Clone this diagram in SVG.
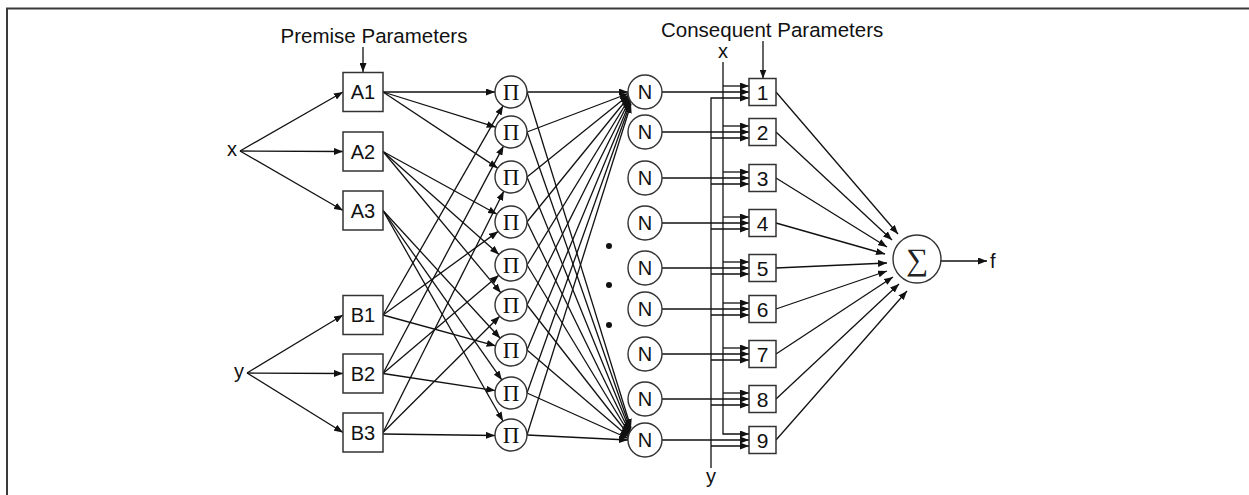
<svg xmlns="http://www.w3.org/2000/svg" width="1249" height="495" viewBox="0 0 1249 495">
<style>
.ln{stroke:#111;stroke-width:1.3;fill:none}
.ar{stroke:#111;stroke-width:1.3;fill:none;marker-end:url(#ah)}
.bx{fill:#fff;stroke:#333;stroke-width:1.5}
.cr{fill:#fff;stroke:#333;stroke-width:1.4}
.t{font-family:"Liberation Sans",Arial,sans-serif;fill:#111;text-anchor:middle}
.pi{font-family:"Liberation Serif","Times New Roman",serif;font-size:23px;fill:#111;text-anchor:middle}
.lb{font-size:20px}
.nn{font-size:20px}
.dg{font-size:21px}
.hd{font-size:20.5px}
</style>
<defs>
<marker id="ah" markerUnits="userSpaceOnUse" markerWidth="9" markerHeight="7" viewBox="0 0 9 7" refX="9" refY="3.5" orient="auto">
<path d="M0,0 L9,3.5 L0,7 z" fill="#111"/>
</marker>
</defs>
<rect width="1249" height="495" fill="#fff"/>
<path d="M7 495 V8.5 H1249" stroke="#3a3a3a" stroke-width="2" fill="none"/>

<g id="connectors">
<line class="ar" x1="363" y1="47" x2="363" y2="72"/>
<line class="ar" x1="763" y1="41" x2="763" y2="78.5"/>
<line class="ar" x1="240" y1="151" x2="343" y2="92"/>
<line class="ar" x1="240" y1="151" x2="343" y2="151.5"/>
<line class="ar" x1="240" y1="151" x2="343" y2="210.5"/>
<line class="ar" x1="247" y1="373" x2="343" y2="315"/>
<line class="ar" x1="247" y1="373" x2="343" y2="373.5"/>
<line class="ar" x1="247" y1="373" x2="343" y2="432.5"/>
<line class="ar" x1="383" y1="92" x2="495" y2="92"/>
<line class="ar" x1="383" y1="92" x2="495.7" y2="127.2"/>
<line class="ar" x1="383" y1="92" x2="497.7" y2="168.1"/>
<line class="ar" x1="383" y1="151.5" x2="497" y2="214.3"/>
<line class="ar" x1="383" y1="151.5" x2="499" y2="254.4"/>
<line class="ar" x1="383" y1="151.5" x2="500.8" y2="292.7"/>
<line class="ar" x1="383" y1="210.5" x2="500.2" y2="338.2"/>
<line class="ar" x1="383" y1="210.5" x2="501.8" y2="379.9"/>
<line class="ar" x1="383" y1="210.5" x2="503" y2="421"/>
<line class="ar" x1="383" y1="315" x2="503" y2="105.9"/>
<line class="ar" x1="383" y1="315" x2="498.1" y2="231.4"/>
<line class="ar" x1="383" y1="315" x2="495.6" y2="345.8"/>
<line class="ar" x1="383" y1="373.5" x2="503.5" y2="146.1"/>
<line class="ar" x1="383" y1="373.5" x2="498.8" y2="275.3"/>
<line class="ar" x1="383" y1="373.5" x2="495.2" y2="390.6"/>
<line class="ar" x1="383" y1="432.5" x2="503.8" y2="191.3"/>
<line class="ar" x1="383" y1="432.5" x2="499.7" y2="316.3"/>
<line class="ar" x1="383" y1="434" x2="495" y2="435.5"/>
<line class="ar" x1="527" y1="92" x2="628" y2="92"/>
<line class="ar" x1="527" y1="132" x2="628.4" y2="93.5"/>
<line class="ar" x1="527" y1="177" x2="628.8" y2="95"/>
<line class="ar" x1="527" y1="222" x2="629.1" y2="96.5"/>
<line class="ar" x1="527" y1="265" x2="629.5" y2="98"/>
<line class="ar" x1="527" y1="305" x2="629.9" y2="99.5"/>
<line class="ar" x1="527" y1="350" x2="630.3" y2="101"/>
<line class="ar" x1="527" y1="393" x2="630.6" y2="102.5"/>
<line class="ar" x1="527" y1="435" x2="631" y2="104"/>
<line class="ar" x1="527" y1="92" x2="631" y2="428"/>
<line class="ar" x1="527" y1="132" x2="630.6" y2="429.5"/>
<line class="ar" x1="527" y1="177" x2="630.3" y2="431"/>
<line class="ar" x1="527" y1="222" x2="629.9" y2="432.5"/>
<line class="ar" x1="527" y1="265" x2="629.5" y2="434"/>
<line class="ar" x1="527" y1="305" x2="629.1" y2="435.5"/>
<line class="ar" x1="527" y1="350" x2="628.8" y2="437"/>
<line class="ar" x1="527" y1="393" x2="628.4" y2="438.5"/>
<line class="ar" x1="527" y1="435" x2="628" y2="440"/>
<line class="ar" x1="662" y1="92" x2="749" y2="92"/>
<line class="ar" x1="662" y1="132" x2="749" y2="132"/>
<line class="ar" x1="662" y1="178" x2="749" y2="178"/>
<line class="ar" x1="662" y1="223" x2="749" y2="223"/>
<line class="ar" x1="662" y1="268" x2="749" y2="268"/>
<line class="ar" x1="662" y1="309" x2="749" y2="309"/>
<line class="ar" x1="662" y1="354" x2="749" y2="354"/>
<line class="ar" x1="662" y1="399" x2="749" y2="399"/>
<line class="ar" x1="662" y1="440" x2="749" y2="440"/>
<path class="ar" d="M723 62 V434 H749"/>
<line class="ar" x1="723" y1="86" x2="749" y2="86"/>
<line class="ar" x1="723" y1="126" x2="749" y2="126"/>
<line class="ar" x1="723" y1="172" x2="749" y2="172"/>
<line class="ar" x1="723" y1="217" x2="749" y2="217"/>
<line class="ar" x1="723" y1="262" x2="749" y2="262"/>
<line class="ar" x1="723" y1="303" x2="749" y2="303"/>
<line class="ar" x1="723" y1="348" x2="749" y2="348"/>
<line class="ar" x1="723" y1="393" x2="749" y2="393"/>
<path class="ar" d="M711 468 V98 H749"/>
<line class="ar" x1="711" y1="138" x2="749" y2="138"/>
<line class="ar" x1="711" y1="184" x2="749" y2="184"/>
<line class="ar" x1="711" y1="229" x2="749" y2="229"/>
<line class="ar" x1="711" y1="274" x2="749" y2="274"/>
<line class="ar" x1="711" y1="315" x2="749" y2="315"/>
<line class="ar" x1="711" y1="360" x2="749" y2="360"/>
<line class="ar" x1="711" y1="405" x2="749" y2="405"/>
<line class="ar" x1="711" y1="446" x2="749" y2="446"/>
<line class="ar" x1="776" y1="92" x2="898" y2="234"/>
<line class="ar" x1="776" y1="132" x2="892" y2="240"/>
<line class="ar" x1="776" y1="178" x2="887" y2="247"/>
<line class="ar" x1="776" y1="223" x2="885" y2="254"/>
<line class="ar" x1="776" y1="268" x2="887" y2="263"/>
<line class="ar" x1="776" y1="309" x2="887" y2="271"/>
<line class="ar" x1="776" y1="354" x2="893" y2="277"/>
<line class="ar" x1="776" y1="399" x2="899" y2="284"/>
<line class="ar" x1="776" y1="440" x2="907" y2="291"/>
<line class="ar" x1="941" y1="261" x2="987" y2="261"/>
</g>

<g id="labels">
<text class="t hd" x="374" y="43">Premise Parameters</text>
<text class="t hd" x="661" y="37" style="text-anchor:start">Consequent Parameters</text>
<text class="t lb" x="232" y="156">x</text>
<text class="t lb" x="239" y="378">y</text>
<text class="t lb" x="723" y="58">x</text>
<text class="t lb" x="711" y="483">y</text>
<text class="t lb" x="990" y="268" style="text-anchor:start">f</text>
</g>

<g id="A1"><rect class="bx" x="343" y="72.5" width="40" height="39"/><text class="t lb" x="363" y="99">A1</text></g>
<g id="A2"><rect class="bx" x="343" y="132" width="40" height="39"/><text class="t lb" x="363" y="158.5">A2</text></g>
<g id="A3"><rect class="bx" x="343" y="191" width="40" height="39"/><text class="t lb" x="363" y="217.5">A3</text></g>
<g id="B1"><rect class="bx" x="343" y="295.5" width="40" height="39"/><text class="t lb" x="363" y="322">B1</text></g>
<g id="B2"><rect class="bx" x="343" y="354" width="40" height="39"/><text class="t lb" x="363" y="380.5">B2</text></g>
<g id="B3"><rect class="bx" x="343" y="413" width="40" height="39"/><text class="t lb" x="363" y="439.5">B3</text></g>

<g id="P1"><circle class="cr" cx="511" cy="92" r="16"/><text class="pi" x="511" y="99.5">Π</text></g>
<g id="P2"><circle class="cr" cx="511" cy="132" r="16"/><text class="pi" x="511" y="139.5">Π</text></g>
<g id="P3"><circle class="cr" cx="511" cy="177" r="16"/><text class="pi" x="511" y="184.5">Π</text></g>
<g id="P4"><circle class="cr" cx="511" cy="222" r="16"/><text class="pi" x="511" y="229.5">Π</text></g>
<g id="P5"><circle class="cr" cx="511" cy="265" r="16"/><text class="pi" x="511" y="272.5">Π</text></g>
<g id="P6"><circle class="cr" cx="511" cy="305" r="16"/><text class="pi" x="511" y="312.5">Π</text></g>
<g id="P7"><circle class="cr" cx="511" cy="350" r="16"/><text class="pi" x="511" y="357.5">Π</text></g>
<g id="P8"><circle class="cr" cx="511" cy="393" r="16"/><text class="pi" x="511" y="400.5">Π</text></g>
<g id="P9"><circle class="cr" cx="511" cy="435" r="16"/><text class="pi" x="511" y="442.5">Π</text></g>

<g id="N1"><circle class="cr" cx="645" cy="92" r="17"/><text class="t nn" x="645" y="99.2">N</text></g>
<g id="N2"><circle class="cr" cx="645" cy="132" r="17"/><text class="t nn" x="645" y="139.2">N</text></g>
<g id="N3"><circle class="cr" cx="645" cy="178" r="17"/><text class="t nn" x="645" y="185.2">N</text></g>
<g id="N4"><circle class="cr" cx="645" cy="223" r="17"/><text class="t nn" x="645" y="230.2">N</text></g>
<g id="N5"><circle class="cr" cx="645" cy="268" r="17"/><text class="t nn" x="645" y="275.2">N</text></g>
<g id="N6"><circle class="cr" cx="645" cy="309" r="17"/><text class="t nn" x="645" y="316.2">N</text></g>
<g id="N7"><circle class="cr" cx="645" cy="354" r="17"/><text class="t nn" x="645" y="361.2">N</text></g>
<g id="N8"><circle class="cr" cx="645" cy="399" r="17"/><text class="t nn" x="645" y="406.2">N</text></g>
<g id="N9"><circle class="cr" cx="645" cy="440" r="17"/><text class="t nn" x="645" y="447.2">N</text></g>

<g id="dots" fill="#111"><circle cx="609" cy="246" r="3"/><circle cx="609" cy="285" r="3"/><circle cx="609" cy="325" r="3"/></g>

<g id="C1"><rect class="bx" x="749" y="78.5" width="27" height="27"/><text class="t dg" x="762.5" y="99.5">1</text></g>
<g id="C2"><rect class="bx" x="749" y="118.5" width="27" height="27"/><text class="t dg" x="762.5" y="139.5">2</text></g>
<g id="C3"><rect class="bx" x="749" y="164.5" width="27" height="27"/><text class="t dg" x="762.5" y="185.5">3</text></g>
<g id="C4"><rect class="bx" x="749" y="209.5" width="27" height="27"/><text class="t dg" x="762.5" y="230.5">4</text></g>
<g id="C5"><rect class="bx" x="749" y="254.5" width="27" height="27"/><text class="t dg" x="762.5" y="275.5">5</text></g>
<g id="C6"><rect class="bx" x="749" y="295.5" width="27" height="27"/><text class="t dg" x="762.5" y="316.5">6</text></g>
<g id="C7"><rect class="bx" x="749" y="340.5" width="27" height="27"/><text class="t dg" x="762.5" y="361.5">7</text></g>
<g id="C8"><rect class="bx" x="749" y="385.5" width="27" height="27"/><text class="t dg" x="762.5" y="406.5">8</text></g>
<g id="C9"><rect class="bx" x="749" y="426.5" width="27" height="27"/><text class="t dg" x="762.5" y="447.5">9</text></g>

<g id="SUM"><circle class="cr" cx="917" cy="259" r="24"/><text x="917" y="270" style="font-family:'Liberation Serif','DejaVu Serif',serif;font-size:31px;fill:#222;text-anchor:middle">∑</text></g>
</svg>
